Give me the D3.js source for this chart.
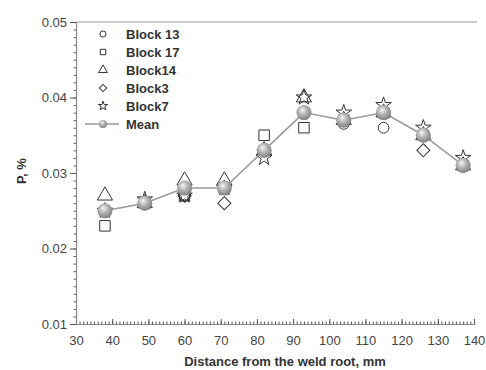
<!DOCTYPE html>
<html>
<head>
<meta charset="utf-8">
<script src="https://cdn.jsdelivr.net/npm/d3@7"></script>
<style>
  body { margin: 0; background: #fff; }
  svg text { font-family: "Liberation Sans", Arial, sans-serif; }
</style>
</head>
<body>
<svg id="chart" width="486" height="370"></svg>
<script>
// Distance from the weld root (mm)
const distance = [38, 49, 60, 71, 82, 93, 104, 115, 126, 137];

// P content (%) per block
const block13 = [0.025, 0.026, 0.027, 0.028, 0.033, 0.038, 0.0365, 0.036, 0.035, 0.031];
const block17 = [0.023, 0.026, 0.027, 0.028, 0.035, 0.036, 0.037, 0.038, 0.035, 0.031];
const block14 = [0.027, 0.026, 0.029, 0.029, 0.033, 0.040, 0.037, 0.038, 0.035, 0.031];
const block3 = [0.025, 0.026, 0.027, 0.026, 0.033, 0.038, 0.037, 0.038, 0.033, 0.031];
const block7 = [0.025, 0.0265, 0.027, 0.028, 0.032, 0.040, 0.038, 0.039, 0.036, 0.032];
const meanP = [0.025, 0.026, 0.028, 0.028, 0.033, 0.038, 0.037, 0.038, 0.035, 0.031];

const xTicks = [30, 40, 50, 60, 70, 80, 90, 100, 110, 120, 130, 140];
const yTicks = [0.01, 0.02, 0.03, 0.04, 0.05];

const seriesNames = ["Block 13", "Block 17", "Block14", "Block3", "Block7"];
const seriesValues = [block13, block17, block14, block3, block7];

const svg = d3.select("#chart");

const x = d3.scaleLinear().domain([30, 140]).range([76, 474]);
const y = d3.scaleLinear().domain([0.01, 0.05]).range([324, 22]);

// shaded ball used for the mean
const grad = svg.append("defs").append("radialGradient")
  .attr("id", "ball").attr("cx", "45%").attr("cy", "40%").attr("r", "60%")
  .attr("fx", "38%").attr("fy", "32%");
grad.append("stop").attr("offset", "0%").attr("stop-color", "#f6f6f6");
grad.append("stop").attr("offset", "50%").attr("stop-color", "#b4b4b4");
grad.append("stop").attr("offset", "100%").attr("stop-color", "#808080");

// marker shapes for the blocks
const shapes = [
  d3.symbol().type(d3.symbolCircle).size(90),
  d3.symbol().type(d3.symbolSquare).size(110),
  d3.symbol().type(d3.symbolTriangle).size(100),
  d3.symbol().type(d3.symbolSquare).size(85),
  d3.symbol().type(d3.symbolStar).size(75),
];
const rotations = [0, 0, 0, 45, 0];

// top frame line
svg.append("line")
  .attr("x1", x(30)).attr("x2", 477)
  .attr("y1", y(0.05)).attr("y2", y(0.05))
  .attr("stroke", "#999").attr("stroke-width", 1.2);

// x axis: labels below, ticks pointing inward
const xAxis = svg.append("g").attr("transform", `translate(0,${y(0.01)})`);
xAxis.call(d3.axisBottom(x).tickValues(d3.range(30, 141, 1)).tickSize(-2.5).tickFormat(""))
  .call(g => g.selectAll(".tick line").attr("stroke", "#555"))
  .call(g => g.select(".domain").attr("stroke", "#888").attr("stroke-width", 1.2));
xAxis.append("g")
  .call(d3.axisBottom(x).tickValues(xTicks).tickSize(-5).tickPadding(12))
  .call(g => g.select(".domain").remove())
  .call(g => g.selectAll(".tick line").attr("stroke", "#555"))
  .call(g => g.selectAll(".tick text").attr("font-size", 13).attr("fill", "#444"));

// y axis: ticks pointing outward
const yAxis = svg.append("g").attr("transform", `translate(${x(30)},0)`);
yAxis.call(d3.axisLeft(y).tickValues(d3.range(0.01, 0.0501, 0.001)).tickSize(2.5).tickFormat(""))
  .call(g => g.selectAll(".tick line").attr("stroke", "#666"))
  .call(g => g.select(".domain").attr("stroke", "#888").attr("stroke-width", 1.2));
yAxis.append("g")
  .call(d3.axisLeft(y).tickValues(yTicks).tickSize(6).tickPadding(3).tickFormat(d3.format(".2f")))
  .call(g => g.select(".domain").remove())
  .call(g => g.selectAll(".tick line").attr("stroke", "#555"))
  .call(g => g.selectAll(".tick text").attr("font-size", 13).attr("fill", "#444"));

// axis titles
svg.append("text")
  .attr("x", 285).attr("y", 366)
  .attr("text-anchor", "middle")
  .attr("font-size", 13).attr("font-weight", "bold").attr("fill", "#333")
  .text("Distance from the weld root, mm");
svg.append("text")
  .attr("transform", "translate(26,171) rotate(-90)")
  .attr("text-anchor", "middle")
  .attr("font-size", 13).attr("font-weight", "bold").attr("fill", "#333")
  .text("P, %");

// open markers for each block
seriesValues.forEach((vals, s) => {
  svg.append("g").selectAll("path")
    .data(vals)
    .join("path")
    .attr("d", shapes[s])
    .attr("transform", (d, i) => `translate(${x(distance[i])},${y(d)}) rotate(${rotations[s]})`)
    .attr("fill", "none")
    .attr("stroke", "#333")
    .attr("stroke-width", 1);
});

// mean line with shaded balls
const line = d3.line().x((d, i) => x(distance[i])).y(d => y(d));
svg.append("path")
  .datum(meanP)
  .attr("d", line)
  .attr("fill", "none")
  .attr("stroke", "#999")
  .attr("stroke-width", 1.5);
svg.append("g").selectAll("circle")
  .data(meanP)
  .join("circle")
  .attr("cx", (d, i) => x(distance[i]))
  .attr("cy", d => y(d))
  .attr("r", 7.5)
  .attr("fill", "url(#ball)");

// legend
const legendRows = [34, 52, 70, 88, 106, 124];
const legendShapes = [
  d3.symbol().type(d3.symbolCircle).size(30),
  d3.symbol().type(d3.symbolSquare).size(30),
  d3.symbol().type(d3.symbolTriangle).size(34),
  d3.symbol().type(d3.symbolSquare).size(26),
  d3.symbol().type(d3.symbolStar).size(26),
];
const legend = svg.append("g");
seriesNames.forEach((name, s) => {
  legend.append("path")
    .attr("d", legendShapes[s])
    .attr("transform", `translate(103,${legendRows[s]}) rotate(${rotations[s]})`)
    .attr("fill", "none").attr("stroke", "#333").attr("stroke-width", 1);
  legend.append("text")
    .attr("x", 126).attr("y", legendRows[s] + 5)
    .attr("font-size", 13).attr("font-weight", "bold").attr("fill", "#333")
    .text(name);
});
legend.append("line")
  .attr("x1", 85).attr("x2", 119)
  .attr("y1", legendRows[5]).attr("y2", legendRows[5])
  .attr("stroke", "#999").attr("stroke-width", 1.5);
legend.append("circle")
  .attr("cx", 103).attr("cy", legendRows[5]).attr("r", 4)
  .attr("fill", "url(#ball)");
legend.append("text")
  .attr("x", 126).attr("y", legendRows[5] + 5)
  .attr("font-size", 13).attr("font-weight", "bold").attr("fill", "#333")
  .text("Mean");
</script>
</body>
</html>
